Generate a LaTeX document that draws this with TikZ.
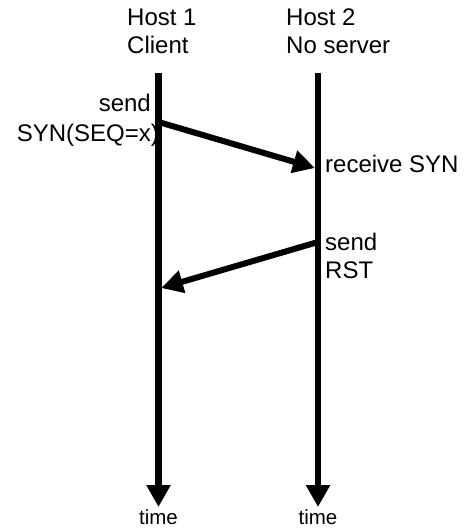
\documentclass[tikz,border=0pt]{standalone}
\usepackage{fontspec}
\setmainfont{Liberation Sans}
\usetikzlibrary{arrows.meta}
\tikzset{
  lbl/.style={inner sep=0pt, font=\fontsize{24}{28}\selectfont},
  timelbl/.style={inner sep=0pt, font=\fontsize{20.5}{24}\selectfont},
  lifeline/.style={line width=6.5pt, -{Triangle[width=23pt,length=22pt]}},
  msg/.style={line width=6pt, -{Triangle[width=22pt,length=22pt]}},
}
\begin{document}
\begin{tikzpicture}[x=1pt,y=-1pt]
  \useasboundingbox (0,0) rectangle (465,529);

  % host headings
  \node[lbl, anchor=base west] (h1a) at (127,26) {Host 1};
  \node[lbl, anchor=base west] (h1b) at (127,54) {Client};
  \node[lbl, anchor=base west] (h2a) at (286,26) {Host 2};
  \node[lbl, anchor=base west] (h2b) at (286,54) {No server};

  % lifelines
  \coordinate (h1top) at (158.5,73);
  \coordinate (h1bot) at (158.5,507);
  \coordinate (h2top) at (318,73);
  \coordinate (h2bot) at (318,507);
  \draw[lifeline] (h1top) -- (h1bot);
  \draw[lifeline] (h2top) -- (h2bot);
  \node[timelbl, anchor=base] (t1) at (158.5,524.5) {time};
  \node[timelbl, anchor=base] (t2) at (318,524.5) {time};

  % SYN segment
  \coordinate (synA) at (158.5,122);
  \coordinate (synB) at (315,168);
  \draw[msg] (synA) -- (synB);
  \node[lbl, anchor=base east] (s1) at (151,112) {send};
  \node[lbl, anchor=base east] (s2) at (159,142) {SYN(SEQ=x)};
  \node[lbl, anchor=base west] (r1) at (325,173) {receive SYN};

  % RST segment
  \coordinate (rstA) at (318,242);
  \coordinate (rstB) at (161,288);
  \draw[msg] (rstA) -- (rstB);
  \node[lbl, anchor=base west] (s3) at (325,250) {send};
  \node[lbl, anchor=base west] (s4) at (325,278) {RST};
\end{tikzpicture}
\end{document}
